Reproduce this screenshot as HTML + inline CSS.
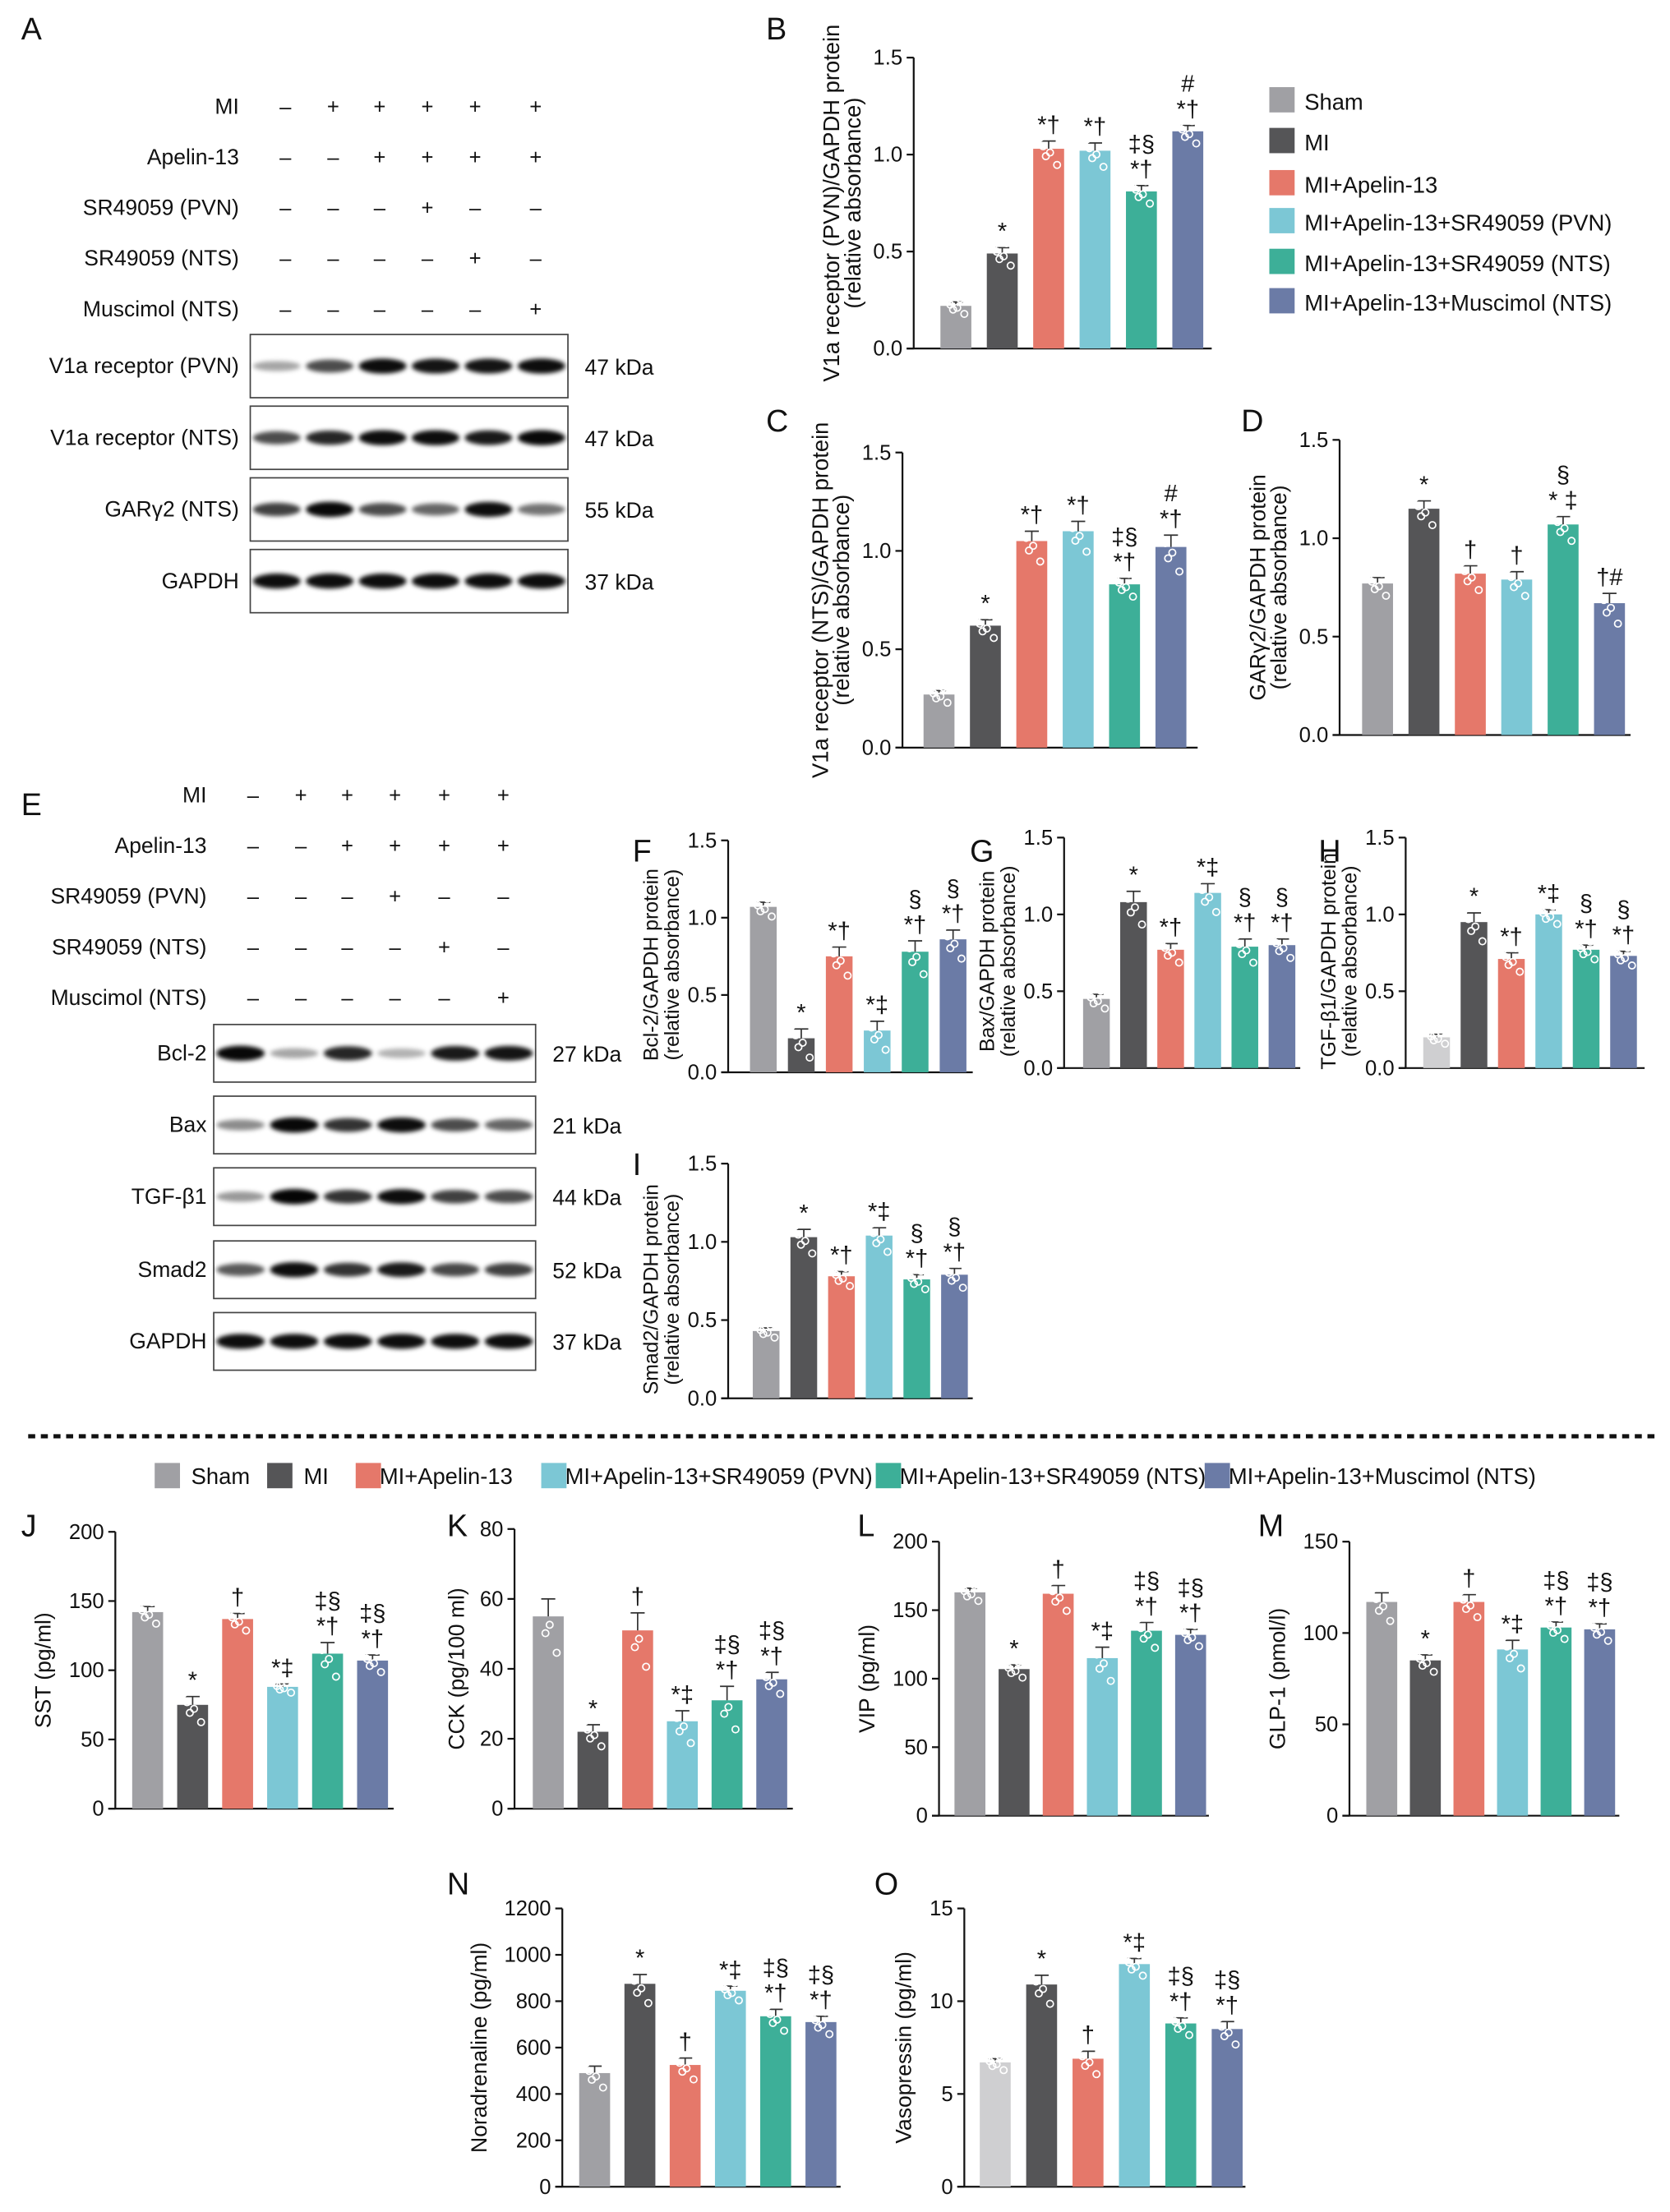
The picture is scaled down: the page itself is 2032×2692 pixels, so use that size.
<!DOCTYPE html>
<html><head><meta charset="utf-8">
<style>
html,body{margin:0;padding:0;background:#fff;}
svg{display:block;font-family:"Liberation Sans",sans-serif;}
</style></head>
<body>
<svg id="fig" width="2032" height="2692" viewBox="0 0 1188 1574" xmlns="http://www.w3.org/2000/svg">
<defs><filter id="blur" x="-50%" y="-100%" width="200%" height="300%"><feGaussianBlur stdDeviation="1.6"/></filter></defs>
<g id="root"></g>
</svg>
<script>
// ---- data ----
const groups=['Sham','MI','MI+Apelin-13','MI+Apelin-13+SR49059 (PVN)','MI+Apelin-13+SR49059 (NTS)','MI+Apelin-13+Muscimol (NTS)'];
const bVals=[0.22,0.49,1.03,1.02,0.81,1.12];
const bErr=[0.02,0.03,0.04,0.04,0.03,0.03];
const bAnn=['','*','*†','*†','‡§\n*†','#\n*†'];
const cVals=[0.27,0.62,1.05,1.10,0.83,1.02];
const cErr=[0.02,0.03,0.05,0.05,0.03,0.06];
const cAnn=['','*','*†','*†','‡§\n*†','#\n*†'];
const dVals=[0.77,1.15,0.82,0.79,1.07,0.67];
const dErr=[0.03,0.04,0.04,0.04,0.04,0.05];
const dAnn=['','*','†','†','§\n* ‡','†#'];
const fVals=[1.07,0.22,0.75,0.27,0.78,0.86];
const fErr=[0.03,0.06,0.06,0.06,0.07,0.06];
const fAnn=['','*','*†','*‡','§\n*†','§\n*†'];
const gVals=[0.45,1.08,0.77,1.14,0.79,0.80];
const gErr=[0.03,0.07,0.04,0.06,0.05,0.04];
const gAnn=['','*','*†','*‡','§\n*†','§\n*†'];
const hVals=[0.20,0.95,0.71,1.00,0.77,0.73];
const hErr=[0.02,0.06,0.04,0.03,0.03,0.03];
const hAnn=['','*','*†','*‡','§\n*†','§\n*†'];
const iVals=[0.43,1.03,0.78,1.04,0.76,0.79];
const iErr=[0.02,0.05,0.03,0.05,0.03,0.04];
const iAnn=['','*','*†','*‡','§\n*†','§\n*†'];
const jVals=[142,75,137,88,112,107];
const jErr=[4,6,4,2,8,4];
const jAnn=['','*','†','*‡','‡§\n*†','‡§\n*†'];
const kVals=[55,22,51,25,31,37];
const kErr=[5,2,5,3,4,2];
const kAnn=['','*','†','*‡','‡§\n*†','‡§\n*†'];
const lVals=[163,107,162,115,135,132];
const lErr=[3,3,6,8,6,4];
const lAnn=['','*','†','*‡','‡§\n*†','‡§\n*†'];
const mVals=[117,85,117,91,103,102];
const mErr=[5,3,4,5,3,3];
const mAnn=['','*','†','*‡','‡§\n*†','‡§\n*†'];
const nVals=[490,875,525,845,735,710];
const nErr=[30,40,30,20,30,25];
const nAnn=['','*','†','*‡','‡§\n*†','‡§\n*†'];
const oVals=[6.7,10.9,6.9,12.0,8.8,8.5];
const oErr=[0.2,0.5,0.4,0.3,0.3,0.4];
const oAnn=['','*','†','*‡','‡§\n*†','‡§\n*†'];
const ticks15=[0,0.5,1.0,1.5];
// blot intensities per lane
const aV1aPVN=[0.35,0.7,0.95,0.92,0.92,0.95];
const aV1aNTS=[0.7,0.85,0.95,0.95,0.9,0.97];
const aGAR=[0.75,0.97,0.7,0.6,0.95,0.55];
const aGAPDH=[0.95,0.95,0.95,0.95,0.95,0.95];
const eBcl=[0.97,0.35,0.85,0.3,0.9,0.92];
const eBax=[0.45,0.97,0.8,0.95,0.7,0.6];
const eTGF=[0.4,0.98,0.8,0.95,0.75,0.7];
const eSmad=[0.65,0.95,0.8,0.9,0.72,0.75];
const eGAPDH=[0.95,0.95,0.95,0.95,0.95,0.95];
const aSigns=[['MI','-+++++'],['Apelin-13','--++++'],['SR49059 (PVN)','---+--'],['SR49059 (NTS)','----+-'],['Muscimol (NTS)','-----+']];

const COLORS=['#a0a0a4','#555557','#e5786a','#7cc7d5','#3daf98','#6b7ba6'];
const NS='http://www.w3.org/2000/svg';
const root=document.getElementById('root');
function el(tag,attrs,parent,text){const e=document.createElementNS(NS,tag);for(const k in attrs)e.setAttribute(k,attrs[k]);if(text!==undefined)e.textContent=text;(parent||root).appendChild(e);return e;}

function txt(x,y,s,size,anchor,parent,name){
  const t=el('text',{x:x,y:y,'font-size':size,'text-anchor':anchor||'start',fill:'#111'},parent,s);
  
  
  return t;
}

function chart(id,c,vals,errs,ann){
  const g=el('g',{});
  
  
  const ys=v=>c.y0-(v/c.max)*(c.y0-c.yTop);
  txt(c.lx,c.ly,id.toUpperCase(),22,'start',g,'panel-letter-'+id);
  const ya=el('line',{x1:c.ax,y1:c.y0,x2:c.ax,y2:c.yTop,stroke:'#111','stroke-width':1.3},g);
  
  
  const xa=el('line',{x1:c.ax-5,y1:c.y0,x2:c.xEnd,y2:c.y0,stroke:'#111','stroke-width':1.3},g);
  
  
  c.ticks.forEach(t=>{
    el('line',{x1:c.ax-5,y1:ys(t),x2:c.ax,y2:ys(t),stroke:'#111','stroke-width':1.3},g);
    txt(c.ax-8,ys(t)+5,c.fmt(t),15,'end',g,'y-tick-label');
  });
  const mid=(c.y0+c.yTop)/2+(c.ymidOff||0);
  const fs=c.yfs||15.5;
  if(c.ylab2){
    const t1=txt(0,0,c.ylab1,fs,'middle',g,'y-axis-title-'+id);
    t1.setAttribute('transform',`translate(${c.ax-c.yoff-15},${mid}) rotate(-90)`);
    const t2=txt(0,0,c.ylab2,fs,'middle',g,'y-axis-subtitle-'+id);
    t2.setAttribute('transform',`translate(${c.ax-c.yoff},${mid}) rotate(-90)`);
  }else{
    const t1=txt(0,0,c.ylab1,fs,'middle',g,'y-axis-title-'+id);
    t1.setAttribute('transform',`translate(${c.ax-c.yoff},${mid}) rotate(-90)`);
  }
  vals.forEach((v,i)=>{
    const cx=c.x0+i*c.step, y=ys(v), bw=c.bw;
    const r=el('rect',{x:cx-bw/2,y:y,width:bw,height:c.y0-y,fill:(i===0&&c.sham)?c.sham:COLORS[i]},g);
    
    
    const ye=ys(v+errs[i]);
    el('line',{x1:cx,y1:y,x2:cx,y2:ye,stroke:'#333','stroke-width':1},g);
    el('line',{x1:cx-5,y1:ye,x2:cx+5,y2:ye,stroke:'#333','stroke-width':1},g);
    const offs=[-6,-2,3,6,-4,1], dv=[0.9,-0.6,1.1,-1.3,0.2,-0.3];
    for(let k=0;k<6;k++){
      const py=ys(v+dv[k]*errs[i]*1.6);
      el('circle',{cx:cx+offs[k],cy:py,r:2.4,fill:'none',stroke:'#fff','stroke-width':1},g);
    }
    const lines=ann[i]?ann[i].split('\n'):[];
    let by=ye-6;
    for(let k=lines.length-1;k>=0;k--){
      txt(cx,by,lines[k],17,'middle',g,'significance-mark');
      by-=18;
    }
  });
}

const f1=t=>t.toFixed(1);
const f0=t=>String(t);
chart('b',{lx:545,ly:28,ax:650,y0:248,yTop:41,max:1.5,ticks:ticks15,fmt:f1,x0:680,step:33,bw:22,xEnd:862,ylab1:'V1a receptor (PVN)/GAPDH protein',ylab2:'(relative absorbance)',yoff:38,yfs:16},bVals,bErr,bAnn);
chart('c',{lx:545,ly:307,ax:642,y0:532,yTop:322,max:1.5,ticks:ticks15,fmt:f1,x0:668,step:33,bw:22,xEnd:852,ylab1:'V1a receptor (NTS)/GAPDH protein',ylab2:'(relative absorbance)',yoff:38,yfs:16},cVals,cErr,cAnn);
chart('d',{lx:883,ly:307,ax:953,y0:523,yTop:313,max:1.5,ticks:ticks15,fmt:f1,x0:980,step:33,bw:22,xEnd:1160,ylab1:'GARγ2/GAPDH protein',ylab2:'(relative absorbance)',yoff:38},dVals,dErr,dAnn);
chart('f',{lx:450,ly:613,ax:518,y0:763,yTop:598,max:1.5,ticks:ticks15,fmt:f1,x0:543,step:27,bw:19,xEnd:692,ylab1:'Bcl-2/GAPDH protein',ylab2:'(relative absorbance)',yoff:35,yfs:14.5,ymidOff:6},fVals,fErr,fAnn);
chart('g',{lx:690,ly:613,ax:757,y0:760,yTop:596,max:1.5,ticks:ticks15,fmt:f1,x0:780,step:26.4,bw:19,xEnd:925,ylab1:'Bax/GAPDH protein',ylab2:'(relative absorbance)',yoff:35,yfs:14.5,ymidOff:6},gVals,gErr,gAnn);
chart('h',{lx:938,ly:613,ax:1000,y0:760,yTop:596,max:1.5,ticks:ticks15,fmt:f1,x0:1022,step:26.6,bw:19,xEnd:1170,ylab1:'TGF-β1/GAPDH protein',ylab2:'(relative absorbance)',yoff:35,yfs:14.5,ymidOff:6,sham:'#cfcfd1'},hVals,hErr,hAnn);
chart('i',{lx:450,ly:836,ax:518,y0:995,yTop:828,max:1.5,ticks:ticks15,fmt:f1,x0:545,step:26.8,bw:19,xEnd:692,ylab1:'Smad2/GAPDH protein',ylab2:'(relative absorbance)',yoff:35,yfs:14.5,ymidOff:6},iVals,iErr,iAnn);
chart('j',{lx:15,ly:1093,ax:82,y0:1287,yTop:1090,max:200,ticks:[0,50,100,150,200],fmt:f0,x0:105,step:32,bw:22,xEnd:280,ylab1:'SST (pg/ml)',yoff:46},jVals,jErr,jAnn);
chart('k',{lx:318,ly:1093,ax:366,y0:1287,yTop:1088,max:80,ticks:[0,20,40,60,80],fmt:f0,x0:390,step:31.8,bw:22,xEnd:564,ylab1:'CCK (pg/100 ml)',yoff:36},kVals,kErr,kAnn);
chart('l',{lx:610,ly:1093,ax:668,y0:1292,yTop:1097,max:200,ticks:[0,50,100,150,200],fmt:f0,x0:690,step:31.4,bw:22,xEnd:860,ylab1:'VIP (pg/ml)',yoff:46},lVals,lErr,lAnn);
chart('m',{lx:895,ly:1093,ax:960,y0:1292,yTop:1097,max:150,ticks:[0,50,100,150],fmt:f0,x0:983,step:31,bw:22,xEnd:1152,ylab1:'GLP-1 (pmol/l)',yoff:46},mVals,mErr,mAnn);
chart('n',{lx:318,ly:1348,ax:400,y0:1556,yTop:1358,max:1200,ticks:[0,200,400,600,800,1000,1200],fmt:f0,x0:423,step:32.2,bw:22,xEnd:598,ylab1:'Noradrenaline (pg/ml)',yoff:54},nVals,nErr,nAnn);
chart('o',{lx:622,ly:1348,ax:686,y0:1556,yTop:1358,max:15,ticks:[0,5,10,15],fmt:f0,x0:708,step:33,bw:22,xEnd:886,ylab1:'Vasopressin (pg/ml)',yoff:38,sham:'#cfcfd1'},oVals,oErr,oAnn);

// ---- blots ----
function blotPanel(id,letterY,signX,rowY0,rowStep,labelX,boxX,boxW,rows){
  const g=el('g',{});
  
  
  txt(15,letterY,id.toUpperCase(),22,'start',g,'panel-letter-'+id);
  aSigns.forEach((s,r)=>{
    const y=rowY0+r*rowStep;
    txt(labelX,y+5,s[0],15.5,'end',g,'treatment-label');
    for(let k=0;k<6;k++){
      txt(signX[k],y+5,s[1][k]==='+'?'+':'–',15,'middle',g,'treatment-sign');
    }
  });
  rows.forEach(rw=>{
    const [name,y,h,kda,ints]=rw;
    const rect=el('rect',{x:boxX,y:y,width:boxW,height:h,fill:'#fff',stroke:'#444','stroke-width':1},g);
    
    
    const lw=boxW/6;
    ints.forEach((v,k)=>{
      const cx=boxX+(k+0.5)*lw;
      el('ellipse',{cx:cx,cy:y+h/2,rx:lw*0.45,ry:2.5+v*3,fill:'#000','fill-opacity':v,filter:'url(#blur)'},g);
    });
    txt(labelX,y+h/2+5,name,15.5,'end',g,'blot-label');
    txt(boxX+boxW+12,y+h/2+6,kda,15.5,'start',g,'kda-label');
  });
}
blotPanel('a',28,[203,237,270,304,338,381],76,36,170,178,226,[
 ['V1a receptor (PVN)',238,45,'47 kDa',aV1aPVN],
 ['V1a receptor (NTS)',289,45,'47 kDa',aV1aNTS],
 ['GARγ2 (NTS)',340,45,'55 kDa',aGAR],
 ['GAPDH',391,45,'37 kDa',aGAPDH]]);
blotPanel('e',580,[180,214,247,281,316,358],566,36,147,152,229,[
 ['Bcl-2',729,41,'27 kDa',eBcl],
 ['Bax',780,41,'21 kDa',eBax],
 ['TGF-β1',831,41,'44 kDa',eTGF],
 ['Smad2',883,41,'52 kDa',eSmad],
 ['GAPDH',934,41,'37 kDa',eGAPDH]]);

// ---- legends ----
const lg=el('g',{});


const legY=[63,92,122,149,178,206];
groups.forEach((n,i)=>{
  const r=el('rect',{x:903,y:legY[i]-1,width:18,height:18,fill:COLORS[i]},lg);
  
  
  txt(928,legY[i]+15,n,16,'start',lg,'legend-entry');
});
const dl=el('line',{x1:20,y1:1022,x2:1178,y2:1022,stroke:'#111','stroke-width':3,'stroke-dasharray':'5,4'});


const lg2=el('g',{});


const lsx=[110,190,253,385,623,857];
groups.forEach((n,i)=>{
  const r=el('rect',{x:lsx[i],y:1041,width:18,height:18,fill:COLORS[i]},lg2);
  
  
  txt(lsx[i]+(i<2?26:17),1056,n,16,'start',lg2,'legend-entry');
});
</script>
</body></html>
